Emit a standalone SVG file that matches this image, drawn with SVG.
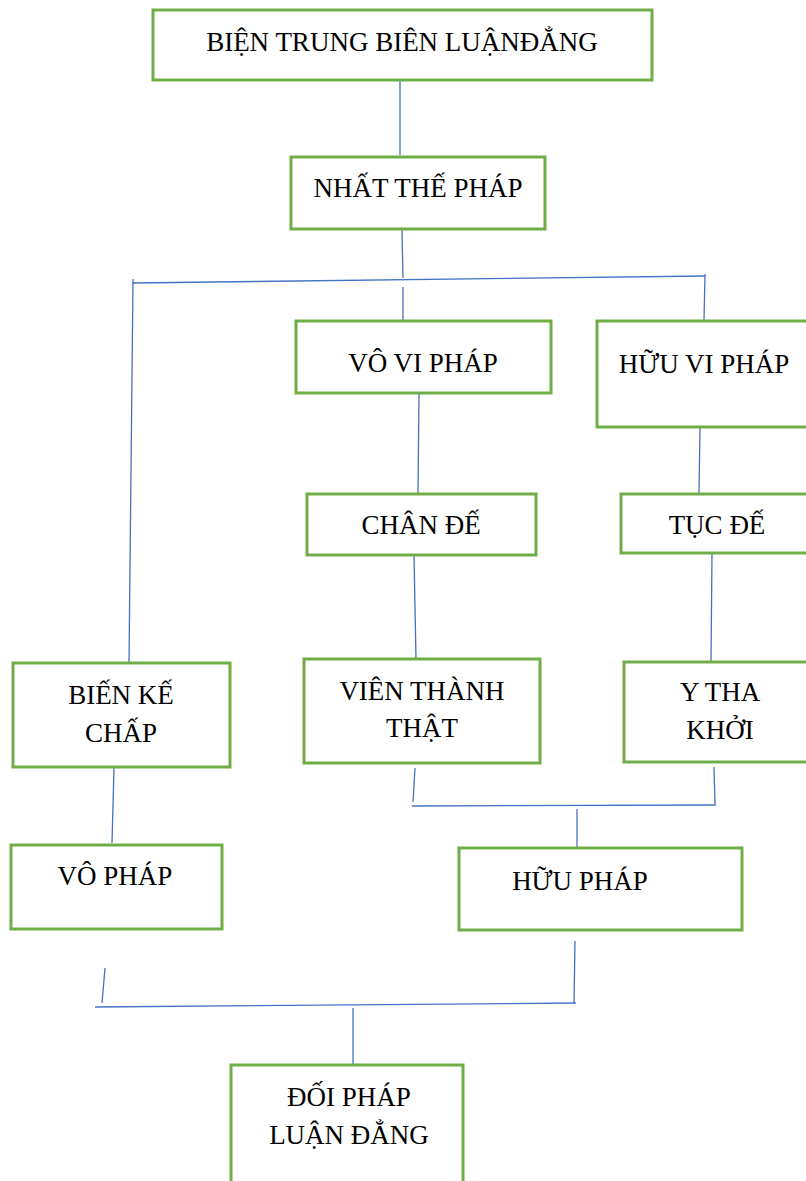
<svg xmlns="http://www.w3.org/2000/svg" width="806" height="1181" viewBox="0 0 806 1181">
<style>
.box{fill:#fff;stroke:#70AD47;stroke-width:3}
.t{font-family:"Liberation Serif","Times New Roman",serif;font-size:27px;fill:#000;text-anchor:middle}
.c line{stroke:#4472C4;stroke-width:1.3;fill:none}
</style>
<rect width="806" height="1181" fill="#fff"/>
<g class="c" id="connectors">
<line x1="400" y1="80" x2="400" y2="155"/>
<line x1="402" y1="230" x2="403" y2="278"/>
<line x1="133" y1="283" x2="705" y2="276"/>
<line x1="133" y1="279" x2="129" y2="663"/>
<line x1="403" y1="287" x2="403" y2="320"/>
<line x1="705" y1="274" x2="704" y2="321"/>
<line x1="419" y1="393" x2="418" y2="494"/>
<line x1="414" y1="555" x2="416" y2="659"/>
<line x1="700" y1="427" x2="699" y2="494"/>
<line x1="712" y1="553" x2="711" y2="662"/>
<line x1="415" y1="768" x2="413" y2="802"/>
<line x1="714" y1="767" x2="715" y2="804"/>
<line x1="412" y1="806" x2="716" y2="805"/>
<line x1="577" y1="809" x2="577" y2="848"/>
<line x1="114" y1="768" x2="112" y2="843"/>
<line x1="105" y1="968" x2="102" y2="1003"/>
<line x1="575" y1="941" x2="574" y2="1003"/>
<line x1="95" y1="1007" x2="576" y2="1003"/>
<line x1="353" y1="1008" x2="353" y2="1064"/>
</g>
<g id="n1"><rect class="box" x="153" y="10" width="499" height="70"/><text class="t" x="402" y="51">BIỆN TRUNG BIÊN LUẬNĐẲNG</text></g>
<g id="n2"><rect class="box" x="291" y="157" width="254" height="72"/><text class="t" x="418" y="197">NHẤT THẾ PHÁP</text></g>
<g id="n3"><rect class="box" x="296" y="321" width="255" height="72"/><text class="t" x="423" y="372">VÔ VI PHÁP</text></g>
<g id="n4"><rect class="box" x="597" y="321" width="215" height="106"/><text class="t" x="704" y="373">HỮU VI PHÁP</text></g>
<g id="n5"><rect class="box" x="307" y="494" width="229" height="61"/><text class="t" x="421" y="534">CHÂN ĐẾ</text></g>
<g id="n6"><rect class="box" x="621" y="494" width="191" height="59"/><text class="t" x="717" y="534">TỤC ĐẾ</text></g>
<g id="n7"><rect class="box" x="304" y="659" width="236" height="104"/><text class="t" x="422" y="700">VIÊN THÀNH</text><text class="t" x="422" y="737">THẬT</text></g>
<g id="n8"><rect class="box" x="624" y="662" width="188" height="100"/><text class="t" x="720" y="701">Y THA</text><text class="t" x="720" y="739">KHỞI</text></g>
<g id="n9"><rect class="box" x="13" y="663" width="217" height="104"/><text class="t" x="121" y="704">BIẾN KẾ</text><text class="t" x="121" y="742">CHẤP</text></g>
<g id="n10"><rect class="box" x="11" y="845" width="211" height="84"/><text class="t" x="115" y="885">VÔ PHÁP</text></g>
<g id="n11"><rect class="box" x="459" y="848" width="283" height="82"/><text class="t" x="580" y="890">HỮU PHÁP</text></g>
<g id="n12"><rect class="box" x="231" y="1065" width="232" height="125"/><text class="t" x="349" y="1106">ĐỐI PHÁP</text><text class="t" x="349" y="1144">LUẬN ĐẲNG</text></g>
</svg>
